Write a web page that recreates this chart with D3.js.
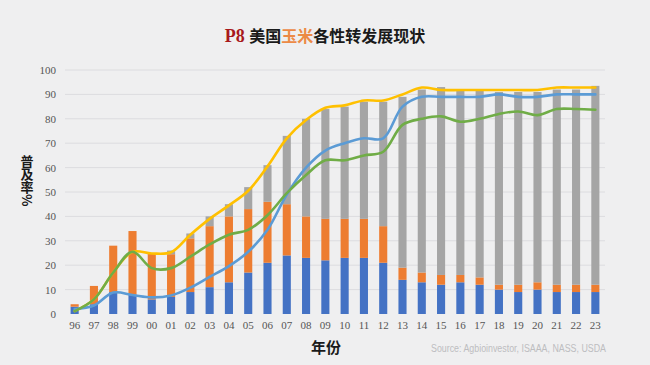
<!DOCTYPE html>
<html><head><meta charset="utf-8">
<script src="https://cdn.jsdelivr.net/npm/d3@7"></script>
<style>
html,body{margin:0;padding:0;background:#efeff0;}
svg{display:block;}
</style></head>
<body>
<svg id="c" width="650" height="365"></svg>
<script>
const years = ["96","97","98","99","00","01","02","03","04","05","06","07","08","09","10","11","12","13","14","15","16","17","18","19","20","21","22","23"];
const barBlue   = [3,4,9,8,6,7,9,11,13,17,21,24,23,22,23,23,21,14,13,12,13,12,10,9,10,9,9,9];
const barOrange = [1,7.5,19,26,19,17.5,22,25,27,26,25,21,17,17,16,16,15,5,4,4,3,3,2,3,3,3,3,3];
const barGray   = [0,0,0,0,0,1.5,2,4,5,9,15,28,40,45,46,48,51,70,75,77,75.5,76.5,79,79,78,80,80,81.5];
const lineYellow = [1.2,6,17,25.5,24.8,25.3,32.5,39,44.5,50.5,60.5,72,79.5,84.5,85.5,87.5,87.5,90,92.8,91.8,91.8,91.8,91.8,91.8,91.8,92.8,92.8,92.8];
const lineBlue   = [2,3.5,8.8,7.8,6.8,7.6,10.8,15.2,19.6,25.5,34.5,49,60,67,70,72,72,85,89,89,89,89,90,89,89,90,90,90];
const lineGreen  = [1.2,6,17,25.5,18.8,18.8,23.5,28.5,32.5,34.5,40.5,49.5,57,63,63,65,66.5,77.5,80,81,78.8,80,82,83,81.5,84,84,83.7];
const yTicks = [0,10,20,30,40,50,60,70,80,90,100];

const svg = d3.select("#c");
const x = d3.scaleBand().domain(years).range([65,605]).paddingInner(0.58).paddingOuter(0.29);
const y = d3.scaleLinear().domain([0,100]).range([314,70]);

// gridlines
svg.append("g").selectAll("line").data(yTicks.filter(d=>d>0)).join("line")
  .attr("x1",65).attr("x2",605).attr("y1",d=>y(d)).attr("y2",d=>y(d))
  .attr("stroke","#dcdcdf").attr("stroke-width",1);

// y axis
const yAxis = d3.axisLeft(y).tickValues(yTicks).tickSize(0).tickPadding(0);
const gy = svg.append("g").attr("transform","translate(56,0)").call(yAxis);
gy.select(".domain").remove();
gy.selectAll("text").attr("font-family","Liberation Serif, serif").attr("font-size",11).attr("fill","#555");

// x axis
const xAxis = d3.axisBottom(x).tickSize(0).tickPadding(0);
const gx = svg.append("g").attr("transform","translate(0,321)").call(xAxis);
gx.select(".domain").remove();
gx.selectAll("text").attr("font-family","Liberation Serif, serif").attr("font-size",11).attr("fill","#555");

// stacked bars
const rows = years.map((yr,i)=>({yr, blue:barBlue[i], orange:barOrange[i], gray:barGray[i]}));
const stack = d3.stack().keys(["blue","orange","gray"])(rows);
const colors = {blue:"#4472c4", orange:"#ed7d31", gray:"#a5a5a5"};
svg.append("g").selectAll("g").data(stack).join("g").attr("fill",d=>colors[d.key])
  .selectAll("rect").data(d=>d).join("rect")
  .attr("x",d=>x(d.data.yr)).attr("width",x.bandwidth())
  .attr("y",d=>y(d[1])).attr("height",d=>Math.max(0,y(d[0])-y(d[1])));

// lines
const line = d3.line().x((d,i)=>x(years[i])+x.bandwidth()/2).y(d=>y(d)).curve(d3.curveCatmullRom.alpha(0.5));
[[lineYellow,"#ffc000"],[lineBlue,"#5b9bd5"],[lineGreen,"#70ad47"]].forEach(([data,col])=>{
  svg.append("path").datum(data).attr("d",line).attr("fill","none").attr("stroke",col)
    .attr("stroke-width",2.6).attr("stroke-linecap","round").attr("stroke-linejoin","round");
});

// title
const title = svg.append("text").attr("x",325).attr("y",42).attr("text-anchor","middle")
  .attr("font-family","Noto Sans CJK SC, sans-serif").attr("font-weight","bold").attr("font-size",16);
title.append("tspan").attr("fill","#a8191c").attr("font-family","Liberation Serif, serif").attr("font-size",18).text("P8 ");
title.append("tspan").attr("fill","#1a1a1a").text("美国");
title.append("tspan").attr("fill","#ec8a45").text("玉米");
title.append("tspan").attr("fill","#1a1a1a").text("各性转发展现状");

// y axis title (vertical)
svg.append("text").attr("x",27).attr("y",155)
  .attr("font-family","Noto Sans CJK SC, sans-serif").attr("font-weight","bold")
  .attr("font-size",13).attr("fill","#1a1a1a")
  .style("writing-mode","vertical-rl").style("text-orientation","mixed")
  .text("普及率%");

// x axis title
svg.append("text").attr("x",326).attr("y",353).attr("text-anchor","middle")
  .attr("font-family","Noto Sans CJK SC, sans-serif").attr("font-weight","bold").attr("font-size",15)
  .attr("fill","#1a1a1a").text("年份");

// source
svg.append("text").attr("x",606).attr("y",352).attr("text-anchor","end")
  .attr("font-family","Liberation Sans, sans-serif").attr("font-size",10).attr("fill","#bdbdc0")
  .attr("textLength",175).attr("lengthAdjust","spacingAndGlyphs")
  .text("Source:  Agbioinvestor,  ISAAA,  NASS,  USDA");
</script>
</body></html>
